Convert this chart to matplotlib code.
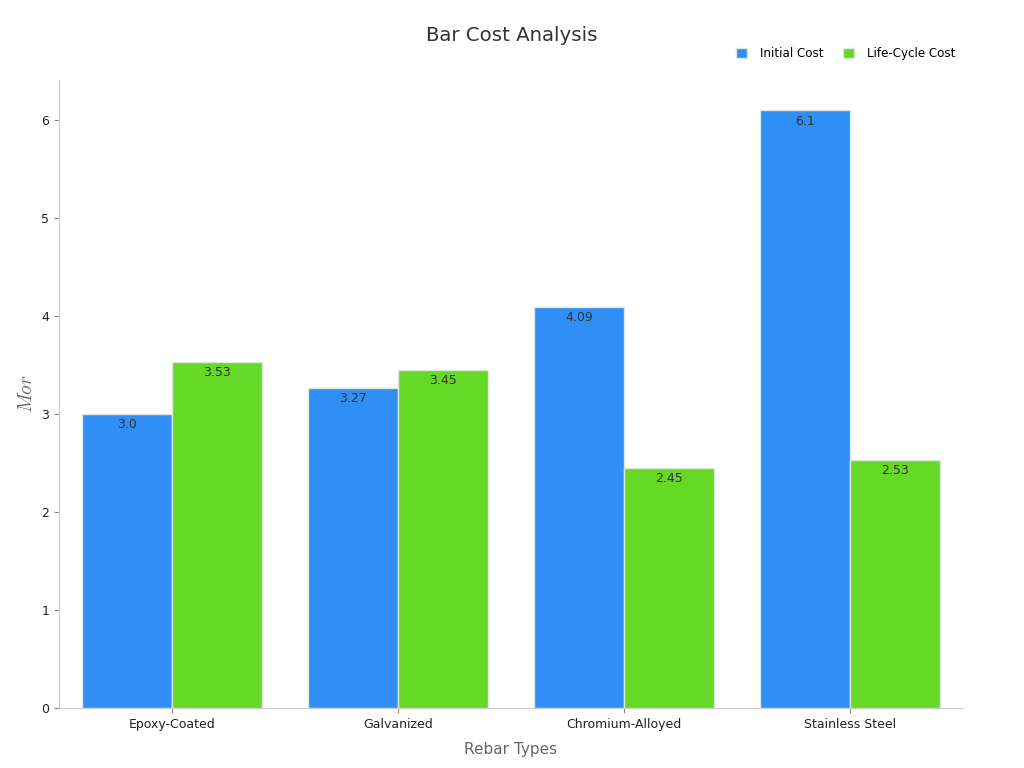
import matplotlib
matplotlib.use("Agg")
import matplotlib.pyplot as plt
import numpy as np

categories = ["Epoxy-Coated", "Galvanized", "Chromium-Alloyed", "Stainless Steel"]
initial_cost = [3.0, 3.27, 4.09, 6.1]
life_cycle_cost = [3.53, 3.45, 2.45, 2.53]
series_names = ["Initial Cost", "Life-Cycle Cost"]
colors = ["#2f8ff7", "#66d926"]

plt.rcParams["mathtext.fontset"] = "cm"

fig = plt.figure(figsize=(10.24, 7.68), dpi=100)
ax = fig.add_axes([59 / 1024, 60 / 768, 904 / 1024, 628 / 768])

x = np.arange(len(categories))
width = 0.4
for i, (name, vals) in enumerate(zip(series_names, [initial_cost, life_cycle_cost])):
    bars = ax.bar(x + (i - 0.5) * width, vals, width=width, color=colors[i],
                  edgecolor="#dde8dd", linewidth=1, label=name, zorder=2)
    for b, v in zip(bars, vals):
        ax.annotate(str(v), (b.get_x() + b.get_width() / 2, v),
                    xytext=(0, -3), textcoords="offset points",
                    ha="center", va="top", fontsize=9, color="#333333")

ax.set_xlim(-0.5, 3.5)
ax.set_ylim(0, 6.41)
ax.set_xticks(x)
ax.tick_params(colors="#888888")
ax.set_xticklabels(categories, fontsize=9, color="#222222")
ax.tick_params(axis="y", labelsize=9, labelcolor="#222222")
for side in ["top", "right"]:
    ax.spines[side].set_visible(False)
for side in ["left", "bottom"]:
    ax.spines[side].set_color("#cccccc")

ax.set_xlabel("Rebar Types", fontsize=11, color="#666666", labelpad=8)
ax.set_ylabel("$Mor$", fontsize=14, color="#666666", labelpad=4)
fig.suptitle("Bar Cost Analysis", fontsize=14.2, color="#333333", y=0.966)

ax.legend(loc="lower right", bbox_to_anchor=(0.997, 1.024), ncol=2, frameon=False,
          fontsize=8.6, handlelength=0.95, handleheight=0.95, handletextpad=1.1,
          columnspacing=1.6, borderaxespad=0)

fig.savefig("out.png", dpi=100)
